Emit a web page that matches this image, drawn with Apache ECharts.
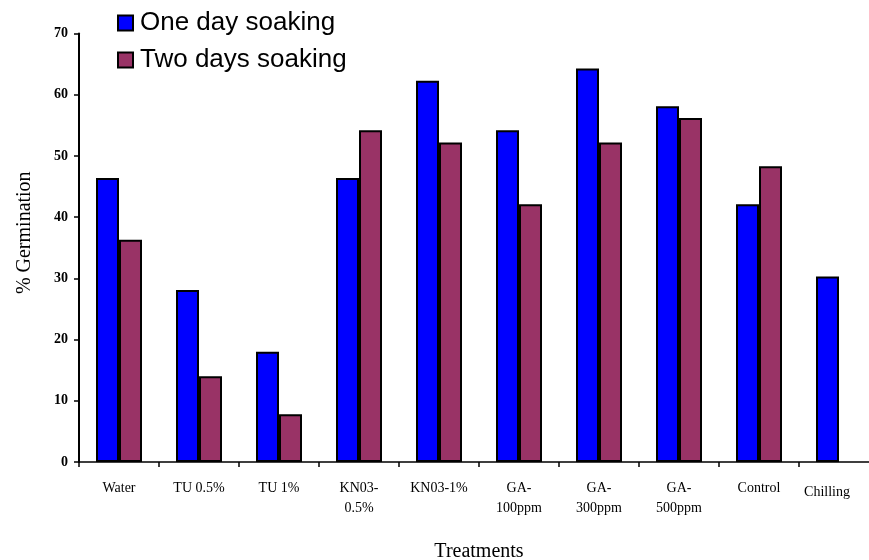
<!DOCTYPE html>
<html>
<head>
<meta charset="utf-8">
<script src="https://cdn.jsdelivr.net/npm/echarts@6/dist/echarts.min.js"></script>
<style>html,body{margin:0;padding:0;background:#fff}#c{width:869px;height:560px}</style>
</head>
<body>
<div id="c"></div>
<script>
var categories = ['Water', 'TU 0.5%', 'TU 1%', 'KN03-\n0.5%', 'KN03-1%', 'GA-\n100ppm', 'GA-\n300ppm', 'GA-\n500ppm', 'Control', 'Chilling'];
var oneDay = [46.4, 28.1, 18.0, 46.4, 62.3, 54.2, 64.3, 58.1, 42.1, 30.3];
var twoDays = [36.3, 14.0, 7.8, 54.2, 52.2, 42.1, 52.2, 56.2, 48.3, null];
var seriesNames = ['One day soaking', 'Two days soaking'];
var yTitle = '% Germination';
var xTitle = 'Treatments';

var chart = echarts.init(document.getElementById('c'), null, {renderer: 'canvas'});
var serif = '"Liberation Serif", "Times New Roman", serif';
var catData = categories.map(function (c) {
  if (c === 'Chilling') return {value: c, textStyle: {padding: [4, 24, 0, 0]}};
  return c;
});
chart.setOption({
  animation: false,
  backgroundColor: '#fff',
  legend: {
    orient: 'vertical',
    left: 117,
    top: 10,
    padding: 0,
    itemWidth: 15,
    itemHeight: 15,
    itemGap: 11,
    icon: 'rect',
    textStyle: {fontFamily: '"Liberation Sans", Arial, sans-serif', fontSize: 26, color: '#000', lineHeight: 26, padding: [0, 0, 0, 2]},
    data: seriesNames
  },
  grid: {left: 79, right: -10, top: 33.5, bottom: 98, containLabel: false, outerBoundsMode: 'none'},
  xAxis: {
    type: 'category',
    data: catData,
    name: xTitle,
    nameLocation: 'middle',
    nameGap: 80,
    nameTextStyle: {fontFamily: serif, fontSize: 20, color: '#000'},
    axisLine: {lineStyle: {color: '#000', width: 1.5}},
    axisTick: {show: true, alignWithLabel: false, length: 5, lineStyle: {color: '#000', width: 1.5}},
    axisLabel: {interval: 0, fontFamily: serif, fontSize: 14, color: '#000', lineHeight: 20, margin: 16}
  },
  yAxis: {
    type: 'value',
    min: 0,
    max: 70,
    interval: 10,
    name: yTitle,
    nameLocation: 'middle',
    nameGap: 44,
    nameRotate: 90,
    nameTextStyle: {fontFamily: serif, fontSize: 20, color: '#000', padding: [0, 0, 0, 30]},
    splitLine: {show: false},
    axisLine: {show: true, lineStyle: {color: '#000', width: 2}},
    axisTick: {show: true, length: 5, lineStyle: {color: '#000', width: 1.5}},
    axisLabel: {fontFamily: serif, fontSize: 14, fontWeight: 'bold', color: '#000', margin: 11}
  },
  series: [
    {
      name: seriesNames[0],
      type: 'bar',
      data: oneDay,
      barWidth: 23,
      barGap: '0%',
      itemStyle: {color: '#0000FF', borderColor: '#000', borderWidth: 2}
    },
    {
      name: seriesNames[1],
      type: 'bar',
      data: twoDays,
      barWidth: 23,
      barGap: '0%',
      itemStyle: {color: '#993366', borderColor: '#000', borderWidth: 2}
    }
  ]
});
</script>
</body>
</html>
